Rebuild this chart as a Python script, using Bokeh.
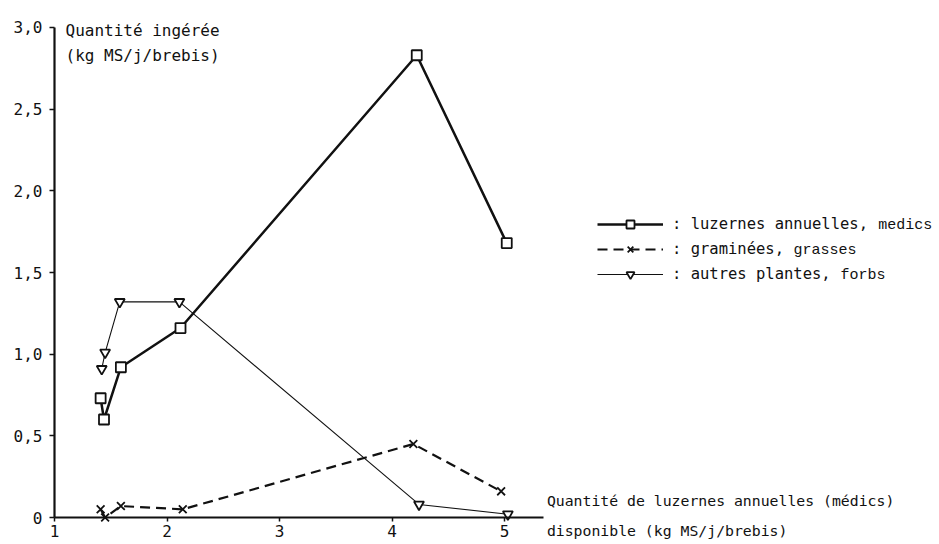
from bokeh.plotting import figure
from bokeh.models import Range1d, FixedTicker, Label, Legend, LegendItem
from bokeh.embed import file_html
from bokeh.resources import INLINE

# ---- data ----
medics_x = [1.41, 1.44, 1.59, 2.12, 4.22, 5.02]
medics_y = [0.73, 0.60, 0.92, 1.16, 2.83, 1.68]
grasses_x = [1.41, 1.45, 1.59, 2.14, 4.19, 4.97]
grasses_y = [0.05, 0.00, 0.07, 0.05, 0.45, 0.16]
forbs_x = [1.42, 1.45, 1.58, 2.11, 4.24, 5.03]
forbs_y = [0.91, 1.01, 1.32, 1.32, 0.08, 0.02]

x_ticks = [1, 2, 3, 4, 5]
x_tick_labels = ["1", "2", "3", "4", "5"]
y_ticks = [0, 0.5, 1.0, 1.5, 2.0, 2.5, 3.0]
y_tick_labels = ["0", "0,5", "1,0", "1,5", "2,0", "2,5", "3,0"]

series_labels = [": luzernes annuelles,", ": graminées,", ": autres plantes,"]
series_english = ["medics", "grasses", "forbs"]

y_title = ["Quantité ingérée", "(kg MS/j/brebis)"]
x_title = ["Quantité de luzernes annuelles (médics)", "disponible  (kg MS/j/brebis)"]

MONO = "DejaVu Sans Mono"
LIGHT = "Liberation Mono"
INK = "#111111"

W, H = 936, 540
p = figure(width=W, height=H, output_backend="svg", toolbar_location=None,
           x_range=Range1d(0.52, 8.84), y_range=Range1d(-0.1408, 3.1653),
           min_border=0)
p.grid.visible = False
p.outline_line_color = None
p.background_fill_color = "white"
p.border_fill_color = "white"

# axes, drawn at the origin inside the frame
xa = p.xaxis[0]
xa.fixed_location = 0
xa.bounds = (1, 5.35)
xa.ticker = FixedTicker(ticks=x_ticks)
xa.major_label_overrides = {t: s for t, s in zip(x_ticks, x_tick_labels)}
ya = p.yaxis[0]
ya.fixed_location = 1
ya.bounds = (0, 3.0)
ya.ticker = FixedTicker(ticks=y_ticks)
ya.major_label_overrides = {t: s for t, s in zip(y_ticks, y_tick_labels)}
for ax in (xa, ya):
    ax.axis_line_width = 2.2
    ax.axis_line_color = INK
    ax.major_tick_line_color = INK
    ax.major_tick_line_width = 1.5
    ax.major_tick_in = 0
    ax.minor_tick_line_color = None
    ax.major_label_text_font = MONO
    ax.major_label_text_color = INK
xa.major_tick_out = 4
xa.major_label_standoff = 3
xa.major_label_text_font_size = "16px"
ya.major_tick_out = 5
ya.major_label_standoff = 7
ya.major_label_text_font_size = "16px"

# series
l_med = p.line(medics_x, medics_y, line_color=INK, line_width=2.5)
s_med = p.scatter(medics_x, medics_y, marker="square", size=10, fill_color="white",
                  line_color=INK, line_width=1.8)
l_gra = p.line(grasses_x, grasses_y, line_color=INK, line_width=2.2, line_dash="10 6")
s_gra = p.scatter(grasses_x, grasses_y, marker="x", size=11, line_color=INK, line_width=1.8)
l_for = p.line(forbs_x, forbs_y, line_color=INK, line_width=1.1)
s_for = p.scatter(forbs_x, forbs_y, marker="inverted_triangle", size=10, fill_color="white",
                  line_color=INK, line_width=1.8)

legend = Legend(items=[
    LegendItem(label=series_labels[0], renderers=[l_med, s_med]),
    LegendItem(label=series_labels[1], renderers=[l_gra, s_gra]),
    LegendItem(label=series_labels[2], renderers=[l_for, s_for]),
], location=(597, 256), glyph_width=66, glyph_height=20, label_height=20, spacing=5,
    padding=0, margin=0, label_standoff=9, border_line_color=None,
    background_fill_alpha=0, label_text_font=MONO, label_text_font_size="15.5px",
    label_text_color=INK)
p.add_layout(legend)

# small English names next to the legend labels
eng_x = [8.323, 7.569, 7.987]
eng_y = [1.790, 1.637, 1.484]
for xx, yy, t in zip(eng_x, eng_y, series_english):
    p.add_layout(Label(x=xx, y=yy, text=t, text_font=LIGHT, text_font_size="15px",
                       text_color=INK, text_baseline="alphabetic"))

# axis titles as free text
p.add_layout(Label(x=1, y=3.0, x_offset=11, y_offset=-3, text=y_title[0], text_font=MONO,
                   text_font_size="16px", text_color=INK, text_baseline="alphabetic"))
p.add_layout(Label(x=1, y=3.0, x_offset=11, y_offset=-28, text=y_title[1], text_font=MONO,
                   text_font_size="16px", text_color=INK, text_baseline="alphabetic"))
p.add_layout(Label(x=5.35, y=0, x_offset=3, y_offset=17, text=x_title[0], text_font=MONO,
                   text_font_size="14.8px", text_color=INK, text_baseline="alphabetic"))
p.add_layout(Label(x=5.35, y=0, x_offset=3, y_offset=-13, text=x_title[1], text_font=MONO,
                   text_font_size="14.8px", text_color=INK, text_baseline="alphabetic"))

open("out.html", "w").write(file_html(p, INLINE))
